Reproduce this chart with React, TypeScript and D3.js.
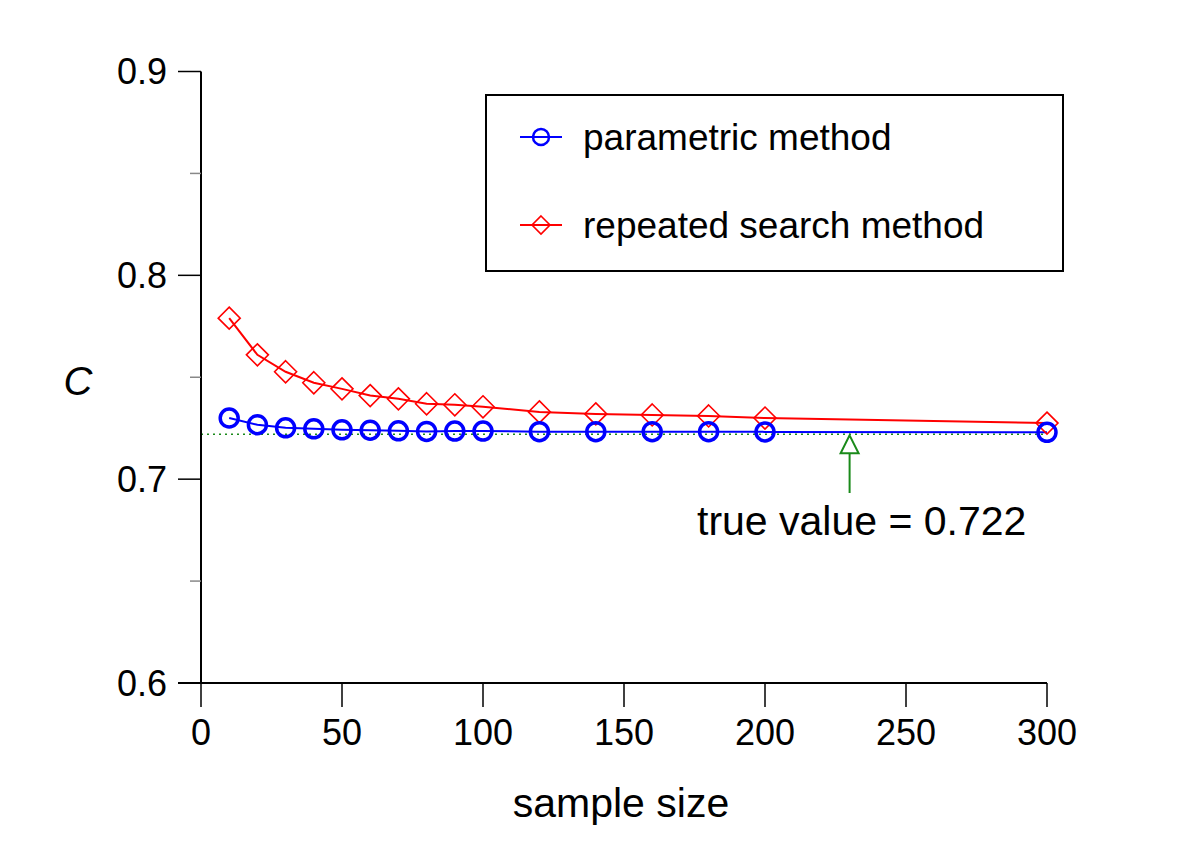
import React from "react";
import * as d3 from "d3";

const sampleSizes = [10, 20, 30, 40, 50, 60, 70, 80, 90, 100, 120, 140, 160, 180, 200, 300];
const parametric = [0.730, 0.7267, 0.7252, 0.7247, 0.7242, 0.7240, 0.7237, 0.7234, 0.7236, 0.7236, 0.7233, 0.7233, 0.7233, 0.7233, 0.7232, 0.7230];
const repeated = [0.779, 0.761, 0.7527, 0.7473, 0.7443, 0.741, 0.7394, 0.737, 0.7365, 0.7355, 0.733, 0.732, 0.7315, 0.731, 0.730, 0.7275];
const xTicks = [0, 50, 100, 150, 200, 250, 300];
const yTicks = [0.6, 0.7, 0.8, 0.9];
const yMinor = [0.65, 0.75, 0.85];
const trueValue = 0.722;
const arrowX = 230;
const seriesNames = ["parametric method", "repeated search method"];

const FONT = "'Liberation Sans', Arial, sans-serif";

export default function App() {
  const x = d3.scaleLinear().domain([0, 300]).range([201, 1047]);
  const y = d3.scaleLinear().domain([0.6, 0.9]).range([683, 71.5]);
  const line = d3
    .line<[number, number]>()
    .x((d) => x(d[0]))
    .y((d) => y(d[1]));
  const pData = sampleSizes.map((s, i) => [s, parametric[i]] as [number, number]);
  const rData = sampleSizes.map((s, i) => [s, repeated[i]] as [number, number]);
  const dia = (cx: number, cy: number, r: number) =>
    `M${cx},${cy - r}L${cx + r},${cy}L${cx},${cy + r}L${cx - r},${cy}Z`;
  const ax = x(arrowX);
  const ay = y(trueValue);

  return (
    <svg
      width={1200}
      height={860}
      style={{ position: "absolute", left: 0, top: 0, background: "#fff" }}
      fontFamily={FONT}
    >
      <rect x={0} y={0} width={1200} height={860} fill="#fff" />
      {/* true value dotted line */}
      <line
        x1={x(0)}
        x2={x(300)}
        y1={y(trueValue)}
        y2={y(trueValue)}
        stroke="#1a8a1a"
        strokeWidth={1.5}
        strokeDasharray="2,4"
      />
      {/* axes */}
      <line x1={201} x2={201} y1={y(0.9)} y2={y(0.6)} stroke="#000" strokeWidth={2} />
      <line x1={178} x2={x(300)} y1={y(0.6)} y2={y(0.6)} stroke="#000" strokeWidth={2} />
      {yTicks.map((t) => (
        <g key={t}>
          <line x1={178} x2={201} y1={y(t)} y2={y(t)} stroke="#000" strokeWidth={1.5} />
          <text x={167} y={y(t)} textAnchor="end" dominantBaseline="central" fontSize={36}>
            {t.toFixed(1)}
          </text>
        </g>
      ))}
      {yMinor.map((t) => (
        <line key={t} x1={190} x2={201} y1={y(t)} y2={y(t)} stroke="#888" strokeWidth={1.5} />
      ))}
      {xTicks.map((t) => (
        <g key={t}>
          <line x1={x(t)} x2={x(t)} y1={y(0.6)} y2={707} stroke="#000" strokeWidth={1.5} />
          <text x={x(t)} y={745} textAnchor="middle" fontSize={36}>
            {t}
          </text>
        </g>
      ))}
      <text x={621} y={817} textAnchor="middle" fontSize={41}>
        sample size
      </text>
      <text x={78} y={395} textAnchor="middle" fontSize={40} fontStyle="italic">
        C
      </text>
      {/* series lines */}
      <path d={line(rData) || ""} fill="none" stroke="#f00" strokeWidth={2} />
      <path d={line(pData) || ""} fill="none" stroke="#00f" strokeWidth={2} />
      {rData.map((d, i) => (
        <path key={i} d={dia(x(d[0]), y(d[1]), 11)} fill="none" stroke="#f00" strokeWidth={1.6} />
      ))}
      {pData.map((d, i) => (
        <circle key={i} cx={x(d[0])} cy={y(d[1])} r={9} fill="none" stroke="#00f" strokeWidth={3.5} />
      ))}
      {/* arrow */}
      <line x1={ax} x2={ax} y1={493} y2={ay + 18} stroke="#1a8a1a" strokeWidth={2} />
      <path
        d={`M${ax},${ay + 1}L${ax + 9},${ay + 19}L${ax - 9},${ay + 19}Z`}
        fill="#fff"
        stroke="#1a8a1a"
        strokeWidth={2}
      />
      <text x={697} y={535} fontSize={41}>
        true value = 0.722
      </text>
      {/* legend */}
      <rect x={486} y={95} width={577} height={176} fill="none" stroke="#000" strokeWidth={2} />
      <line x1={520} x2={562} y1={137} y2={137} stroke="#00f" strokeWidth={2} />
      <circle cx={541} cy={137} r={8} fill="none" stroke="#00f" strokeWidth={2.5} />
      <text x={583} y={137} dominantBaseline="central" fontSize={37}>
        {seriesNames[0]}
      </text>
      <line x1={520} x2={562} y1={225} y2={225} stroke="#f00" strokeWidth={2} />
      <path d={dia(541, 225, 9)} fill="none" stroke="#f00" strokeWidth={1.6} />
      <text x={583} y={225} dominantBaseline="central" fontSize={37}>
        {seriesNames[1]}
      </text>
    </svg>
  );
}
